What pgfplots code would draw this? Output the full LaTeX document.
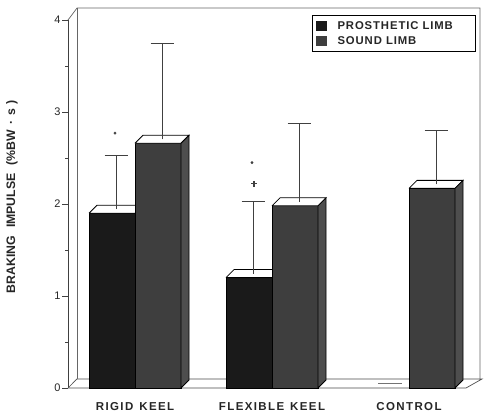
\documentclass[border=0pt]{standalone}
\usepackage{fontspec}
\setmainfont{Liberation Sans}
\newfontfamily\lblfont{Liberation Sans}[LetterSpace=12]
\newfontfamily\legfont{Liberation Sans}[LetterSpace=8]
\usepackage{pgfplots}
\pgfplotsset{compat=1.18}
\definecolor{prosth}{HTML}{1A1A1A}
\definecolor{sound}{HTML}{3E3E3E}
\definecolor{soundside}{HTML}{4E4E4E}
\begin{document}
\begin{tikzpicture}
\begin{axis}[
  scale only axis, width=412pt, height=368pt,
  xmin=68, xmax=480, ymin=0, ymax=4,
  clip=false,
  axis y line*=left, axis x line*=bottom,
  x axis line style={draw=none},
  y axis line style={draw=black!75, line width=0.8pt},
  ytick={0,1,2,3,4}, minor ytick={0.5,1.5,2.5,3.5},
  tick align=outside,
  major tick length=6pt, minor tick length=3pt,
  ytick style={black!75, line width=0.8pt},
  xtick={135,272,409}, xtick style={draw=none},
  xticklabels={RIGID\hspace{6pt}KEEL, FLEXIBLE\hspace{6pt}KEEL, CONTROL},
  xticklabel style={font=\lblfont\bfseries\fontsize{11.5}{13}\selectfont, text=black!85, yshift=-5pt},
  yticklabel style={font=\fontsize{11}{13}\selectfont, text=black!85, xshift=2pt},
  /pgf/number format/assume math mode=true,
  ylabel={BRAKING\hspace{8pt}IMPULSE\hspace{8pt}(\%BW\hspace{5pt}·\hspace{5pt}s\hspace{4pt})},
  every axis y label/.style={at={(axis description cs:-0.136,0.519)}, rotate=90, anchor=center,
     font=\bfseries\fontsize{12.3}{14}\selectfont, text=black!85},
  legend style={at={(0.592,1.0136)}, anchor=north west, draw=black, line width=1.1pt,
     fill=white,
     font=\legfont\bfseries\fontsize{11.3}{13.5}\selectfont, text=black!85,
     inner xsep=4pt, inner ysep=4pt, row sep=1.5pt,
     /tikz/every odd column/.append style={column sep=9pt}},
  legend cell align=left,
]
% legend
\addlegendimage{legend image code/.code={\fill[prosth] (0pt,-4.5pt) rectangle (9pt,4.5pt);}}
\addlegendentry{\makebox[132pt][l]{PROSTHETIC LIMB}}
\addlegendimage{legend image code/.code={\fill[sound] (0pt,-4.5pt) rectangle (9pt,4.5pt);}}
\addlegendentry{SOUND LIMB}
% page extent
\addplot[draw=none, forget plot] coordinates {(0,-0.2717) (486,4.2174)};
% back walls
\addplot[draw=black!60, line width=0.7pt, forget plot] coordinates {(68,4) (77,4.13) (480,4.13) (480,0.098)};
\addplot[draw=black!60, line width=0.7pt, forget plot] coordinates {(77,0.098) (77,4.13)};
% floor
\addplot[draw=black!70, fill=white, line width=0.7pt, forget plot] coordinates {(68,0) (466,0) (482,0.098) (77,0.098) (68,0)};
% control prosthetic (zero)
\addplot[draw=black!55, line width=0.9pt, forget plot] coordinates {(378,0.054) (402,0.054)};
% ---- rigid keel
\addplot[fill=prosth, draw=black, line width=0.8pt, forget plot] coordinates {(89,0) (135,0) (135,1.90) (89,1.90) (89,0)};
\addplot[fill=white, draw=black, line width=0.8pt, forget plot] coordinates {(89,1.90) (135,1.90) (143,1.987) (97,1.987) (89,1.90)};
\addplot[draw=black!75, line width=0.9pt, forget plot] coordinates {(116,1.943) (116,2.53)};
\addplot[draw=black!75, line width=0.9pt, forget plot] coordinates {(104.5,2.53) (127.5,2.53)};
\addplot[fill=sound, draw=black, line width=0.8pt, forget plot] coordinates {(135,0) (181,0) (181,2.66) (135,2.66) (135,0)};
\addplot[fill=white, draw=black, line width=0.8pt, forget plot] coordinates {(135,2.66) (181,2.66) (189,2.747) (143,2.747) (135,2.66)};
\addplot[fill=soundside, draw=black, line width=0.8pt, forget plot] coordinates {(181,0) (189,0.087) (189,2.747) (181,2.66) (181,0)};
\addplot[draw=black!75, line width=0.9pt, forget plot] coordinates {(162,2.703) (162,3.75)};
\addplot[draw=black!75, line width=0.9pt, forget plot] coordinates {(150.5,3.75) (173.5,3.75)};
\addplot[only marks, mark=*, mark size=1.2pt, black!75, forget plot] coordinates {(115,2.77)};
% ---- flexible keel
\addplot[fill=prosth, draw=black, line width=0.8pt, forget plot] coordinates {(226,0) (272,0) (272,1.20) (226,1.20) (226,0)};
\addplot[fill=white, draw=black, line width=0.8pt, forget plot] coordinates {(226,1.20) (272,1.20) (280,1.287) (234,1.287) (226,1.20)};
\addplot[draw=black!75, line width=0.9pt, forget plot] coordinates {(253,1.243) (253,2.03)};
\addplot[draw=black!75, line width=0.9pt, forget plot] coordinates {(241.5,2.03) (264.5,2.03)};
\addplot[fill=sound, draw=black, line width=0.8pt, forget plot] coordinates {(272,0) (318,0) (318,1.98) (272,1.98) (272,0)};
\addplot[fill=white, draw=black, line width=0.8pt, forget plot] coordinates {(272,1.98) (318,1.98) (326,2.067) (280,2.067) (272,1.98)};
\addplot[fill=soundside, draw=black, line width=0.8pt, forget plot] coordinates {(318,0) (326,0.087) (326,2.067) (318,1.98) (318,0)};
\addplot[draw=black!75, line width=0.9pt, forget plot] coordinates {(299,2.023) (299,2.88)};
\addplot[draw=black!75, line width=0.9pt, forget plot] coordinates {(287.5,2.88) (310.5,2.88)};
\addplot[only marks, mark=*, mark size=1.2pt, black!75, forget plot] coordinates {(252,2.45)};
\addplot[only marks, mark=+, mark size=2.8pt, line width=1.4pt, black!75, forget plot] coordinates {(254,2.22)};
% ---- control
\addplot[fill=sound, draw=black, line width=0.8pt, forget plot] coordinates {(409,0) (455,0) (455,2.17) (409,2.17) (409,0)};
\addplot[fill=white, draw=black, line width=0.8pt, forget plot] coordinates {(409,2.17) (455,2.17) (463,2.257) (417,2.257) (409,2.17)};
\addplot[fill=soundside, draw=black, line width=0.8pt, forget plot] coordinates {(455,0) (463,0.087) (463,2.257) (455,2.17) (455,0)};
\addplot[draw=black!75, line width=0.9pt, forget plot] coordinates {(436,2.213) (436,2.80)};
\addplot[draw=black!75, line width=0.9pt, forget plot] coordinates {(424.5,2.80) (447.5,2.80)};
\end{axis}
\end{tikzpicture}
\end{document}
